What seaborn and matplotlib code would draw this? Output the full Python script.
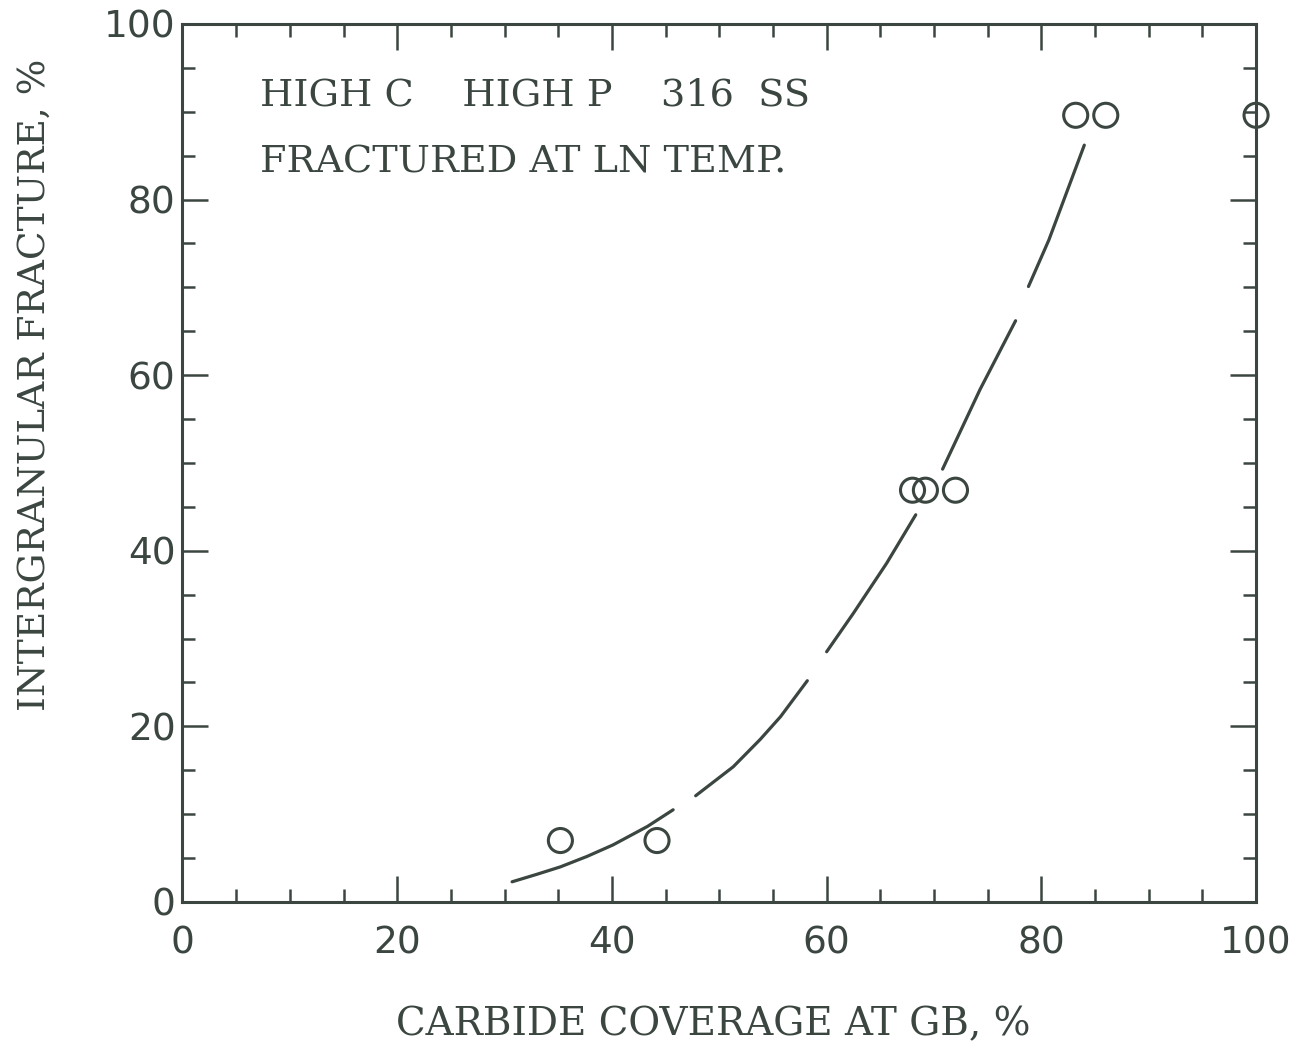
import matplotlib
matplotlib.use("Agg")
import matplotlib.pyplot as plt
import seaborn as sns
import pandas as pd
from matplotlib.ticker import MultipleLocator

# ---- data ----
coverage = [35.2, 44.2, 68.0, 69.2, 72.0, 83.2, 86.0, 100.0]
ig_fracture = [7.0, 7.0, 46.9, 46.9, 46.9, 89.6, 89.6, 89.6]

# hand-drawn trend curve (drawn in pieces, as in the scan)
curve_x = [30.7, 33.0, 35.2, 37.7, 40.1, 43.3, 45.7,
           47.8, 51.3, 53.8, 55.7, 58.2,
           60.0, 62.5, 65.6, 68.3,
           70.8, 74.3, 77.6,
           78.8, 80.7, 84.0]
curve_y = [2.3, 3.15, 4.0, 5.2, 6.5, 8.6, 10.5,
           12.1, 15.4, 18.5, 21.1, 25.2,
           28.5, 32.9, 38.6, 44.1,
           49.3, 58.4, 66.2,
           70.1, 75.4, 86.2]
curve_piece = [1, 1, 1, 1, 1, 1, 1,
               2, 2, 2, 2, 2,
               3, 3, 3, 3,
               4, 4, 4,
               5, 5, 5]

x_ticks = [0, 20, 40, 60, 80, 100]
y_ticks = [0, 20, 40, 60, 80, 100]
note_lines = ["HIGH C    HIGH P    316  SS", "FRACTURED AT LN TEMP."]
x_label = "CARBIDE COVERAGE AT GB, %"
y_label = "INTERGRANULAR FRACTURE, %"

TYPE_FONT = "DejaVu Serif"
DIGIT_FONT = "DejaVu Sans"

# ---- styling ----
INK = "#3a463f"
sns.set_theme(style="ticks")
plt.rcParams["font.family"] = [TYPE_FONT, "DejaVu Sans"]
plt.rcParams["axes.edgecolor"] = INK
plt.rcParams["text.color"] = INK

fig = plt.figure(figsize=(13.11, 10.47), dpi=100)
ax = fig.add_axes([0.1392, 0.1385, 0.8189, 0.8386])

pts = pd.DataFrame({"x": coverage, "y": ig_fracture})
curve = pd.DataFrame({"x": curve_x, "y": curve_y, "piece": curve_piece})

sns.lineplot(data=curve, x="x", y="y", units="piece", estimator=None,
             sort=False, color=INK, lw=2.3, ax=ax, legend=False)
sns.scatterplot(data=pts, x="x", y="y", marker="o", s=300,
                facecolor="none", edgecolor=INK, linewidth=2.2,
                ax=ax, legend=False, zorder=5)
for coll in ax.collections:
    coll.set_clip_on(False)

ax.set_xlim(0, 100)
ax.set_ylim(0, 100)
ax.set_xticks(x_ticks)
ax.set_yticks(y_ticks)
ax.xaxis.set_minor_locator(MultipleLocator(5))
ax.yaxis.set_minor_locator(MultipleLocator(5))

for s in ax.spines.values():
    s.set_visible(True)
    s.set_linewidth(2.2)
    s.set_color(INK)

ax.tick_params(which="both", direction="in", top=True, right=True,
               color=INK, labelcolor=INK)
ax.tick_params(which="major", length=19, width=1.8)
ax.tick_params(which="minor", length=9.5, width=1.8)
ax.tick_params(axis="x", which="major", pad=17)
ax.tick_params(axis="y", which="major", pad=5)
for lab in ax.get_xticklabels() + ax.get_yticklabels():
    lab.set_fontfamily(DIGIT_FONT)
    lab.set_fontsize(27)

ax.set_xlabel(x_label, fontsize=28, color=INK, family=TYPE_FONT)
ax.set_ylabel(y_label, fontsize=27, color=INK, family=TYPE_FONT)
ax.xaxis.label.set_va("center")
ax.yaxis.label.set_va("center")
ax.xaxis.set_label_coords(0.4947, -0.140)
ax.yaxis.set_label_coords(-0.1374, 0.589)

ax.text(7.2, 91.9, note_lines[0], fontsize=27.5, ha="left", va="center",
        color=INK, family=TYPE_FONT)
ax.text(7.2, 84.2, note_lines[1], fontsize=27.5, ha="left", va="center",
        color=INK, family=TYPE_FONT)

fig.savefig("out.png", dpi=100, facecolor="white")
